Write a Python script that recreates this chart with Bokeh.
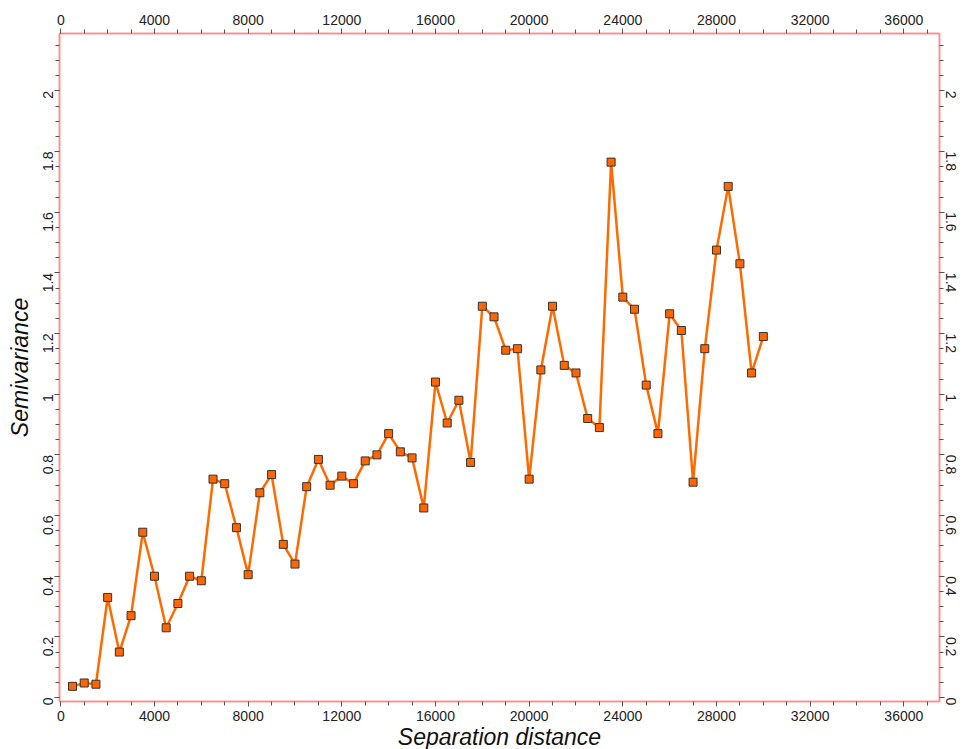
import math
from bokeh.plotting import figure
from bokeh.models import Range1d, LinearAxis, FixedTicker, CustomJSTickFormatter
from bokeh.embed import file_html
from bokeh.resources import INLINE

# Data
separation = [500, 1000, 1500, 2000, 2500, 3000, 3500, 4000, 4500, 5000,
              5500, 6000, 6500, 7000, 7500, 8000, 8500, 9000, 9500, 10000,
              10500, 11000, 11500, 12000, 12500, 13000, 13500, 14000, 14500, 15000,
              15500, 16000, 16500, 17000, 17500, 18000, 18500, 19000, 19500, 20000,
              20500, 21000, 21500, 22000, 22500, 23000, 23500, 24000, 24500, 25000,
              25500, 26000, 26500, 27000, 27500, 28000, 28500, 29000, 29500, 30000]
semivariance = [0.037, 0.048, 0.044, 0.33, 0.15, 0.27, 0.545, 0.40, 0.23, 0.31,
                0.40, 0.385, 0.72, 0.705, 0.56, 0.405, 0.675, 0.735, 0.505, 0.44,
                0.695, 0.785, 0.70, 0.73, 0.705, 0.78, 0.80, 0.87, 0.81, 0.79,
                0.625, 1.04, 0.905, 0.98, 0.775, 1.29, 1.255, 1.145, 1.15, 0.72,
                1.08, 1.29, 1.095, 1.07, 0.92, 0.89, 1.765, 1.32, 1.28, 1.03,
                0.87, 1.265, 1.21, 0.71, 1.15, 1.475, 1.685, 1.43, 1.07, 1.19]

x_major = [0, 4000, 8000, 12000, 16000, 20000, 24000, 28000, 32000, 36000]
x_minor = [0, 1000, 2000, 3000, 4000, 5000, 6000, 7000, 8000, 9000, 10000,
           11000, 12000, 13000, 14000, 15000, 16000, 17000, 18000, 19000, 20000,
           21000, 22000, 23000, 24000, 25000, 26000, 27000, 28000, 29000, 30000,
           31000, 32000, 33000, 34000, 35000, 36000, 37000]
y_major = [0, 0.2, 0.4, 0.6, 0.8, 1.0, 1.2, 1.4, 1.6, 1.8, 2.0]
y_minor = [0, 0.05, 0.1, 0.15, 0.2, 0.25, 0.3, 0.35, 0.4, 0.45, 0.5, 0.55, 0.6,
           0.65, 0.7, 0.75, 0.8, 0.85, 0.9, 0.95, 1.0, 1.05, 1.1, 1.15, 1.2,
           1.25, 1.3, 1.35, 1.4, 1.45, 1.5, 1.55, 1.6, 1.65, 1.7, 1.75, 1.8,
           1.85, 1.9, 1.95, 2.0, 2.05, 2.1, 2.15]

AXIS_COLOR = "#ff8c8c"
TICK_COLOR = "#555555"
FONT = "Liberation Sans"
LINE_COLOR = "#ff6a00"

p = figure(width=964, height=752, output_backend="svg", toolbar_location=None,
           x_range=Range1d(-56, 37524), y_range=Range1d(-0.013, 2.189),
           x_axis_location="below", y_axis_location="left",
           min_border_left=59, min_border_right=25, min_border_top=33, min_border_bottom=50)
p.grid.visible = False
p.outline_line_color = AXIS_COLOR
p.outline_line_width = 1.5
p.background_fill_color = "white"
p.border_fill_color = "white"

y_fmt = CustomJSTickFormatter(code="return String(Math.round(tick*100)/100);")

def style_axis(ax, ticks, minor, fmt=None, standoff=4):
    ax.ticker = FixedTicker(ticks=ticks, minor_ticks=minor)
    if fmt is not None:
        ax.formatter = fmt
    ax.axis_line_color = AXIS_COLOR
    ax.axis_line_width = 1.5
    ax.major_tick_line_color = TICK_COLOR
    ax.minor_tick_line_color = TICK_COLOR
    ax.major_tick_out = 5
    ax.major_tick_in = 0
    ax.minor_tick_out = 4
    ax.minor_tick_in = 0
    ax.major_label_text_font = FONT
    ax.major_label_text_font_size = "14px"
    ax.major_label_text_color = "#222222"
    ax.major_label_standoff = standoff

xa = p.xaxis[0]
style_axis(xa, x_major, x_minor)
xa.axis_label = "Separation distance"
xa.axis_label_text_font = FONT
xa.axis_label_text_font_style = "italic"
xa.axis_label_text_font_size = "23px"
xa.axis_label_text_color = "#111111"
xa.axis_label_standoff = 0

ya = p.yaxis[0]
style_axis(ya, y_major, y_minor, y_fmt, standoff=6)
ya.major_label_orientation = math.pi / 2
ya.axis_label = "Semivariance"
ya.axis_label_text_font = FONT
ya.axis_label_text_font_style = "italic"
ya.axis_label_text_font_size = "23px"
ya.axis_label_text_color = "#111111"
ya.axis_label_standoff = 3

xt = LinearAxis()
style_axis(xt, x_major, x_minor)
p.add_layout(xt, "above")

yr = LinearAxis()
style_axis(yr, y_major, y_minor, y_fmt, standoff=6)
yr.major_label_orientation = -math.pi / 2
p.add_layout(yr, "right")

p.line(separation, semivariance, line_color=LINE_COLOR, line_width=2.5)
p.scatter(separation, semivariance, marker="square", size=8,
          fill_color="#ff6600", line_color="#333333", line_width=1)

open("out.html", "w").write(file_html(p, INLINE))
